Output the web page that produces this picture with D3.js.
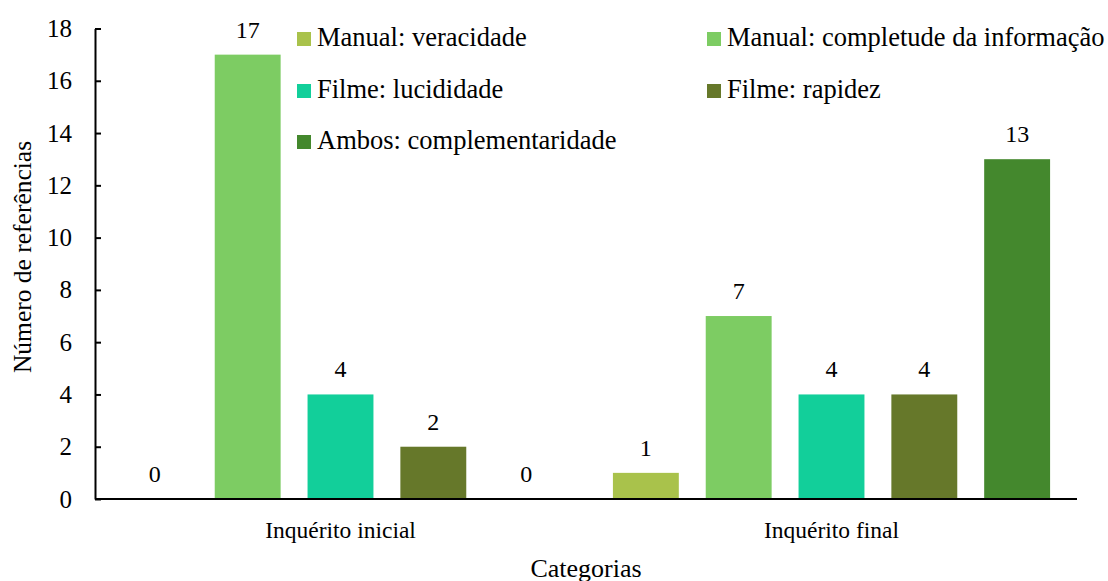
<!DOCTYPE html>
<html>
<head>
<meta charset="utf-8">
<script src="https://cdn.jsdelivr.net/npm/d3@7"></script>
<style>
  body { margin: 0; background: #fff; }
  svg text { font-family: 'Liberation Serif', 'Times New Roman', serif; fill: #000; }
</style>
</head>
<body>
<svg class="chart" width="1108" height="581"></svg>
<script>
// data
var categories = ['Inquérito inicial', 'Inquérito final']
var seriesNames = [
  'Manual: veracidade',
  'Manual: completude da informação',
  'Filme: lucididade',
  'Filme: rapidez',
  'Ambos: complementaridade'
]
var veracidade = [0, 1]
var completude = [17, 7]
var lucididade = [4, 4]
var rapidez = [2, 4]
var complementaridade = [0, 13]
var yTicks = [0, 2, 4, 6, 8, 10, 12, 14, 16, 18]

var colors = ['#a9c24b', '#7dcc63', '#12cf9a', '#66782a', '#44882d']
var seriesValues = [veracidade, completude, lucididade, rapidez, complementaridade]

var svg = d3.select('.chart')
var plotLeft = 95, plotRight = 1077, plotTop = 28.5, plotBottom = 499

var x0 = d3.scaleBand().domain(categories).range([plotLeft, plotRight])
var x1 = d3.scaleBand().domain(seriesNames).range([0, x0.bandwidth()]).padding(0.29)
var y = d3.scaleLinear().domain([0, 18]).range([plotBottom, plotTop])

// bars
categories.forEach(function(cat, ci) {
  var g = svg.append('g').attr('transform', 'translate(' + x0(cat) + ',0)')
  seriesNames.forEach(function(s, si) {
    var v = seriesValues[si][ci]
    g.append('rect')
      .attr('x', x1(s))
      .attr('y', y(v))
      .attr('width', x1.bandwidth())
      .attr('height', plotBottom - y(v))
      .attr('fill', colors[si])
    g.append('text')
      .attr('x', x1(s) + x1.bandwidth() / 2)
      .attr('y', y(v) - 17)
      .attr('text-anchor', 'middle')
      .style('font-size', '24px')
      .text(v)
  })
})

// y axis
var yAxis = svg.append('g')
  .attr('transform', 'translate(' + plotLeft + ',0)')
  .call(d3.axisLeft(y).tickValues(yTicks).tickSizeInner(-6).tickSizeOuter(0).tickPadding(23))
yAxis.select('.domain').attr('stroke', '#000').attr('stroke-width', 2)
yAxis.selectAll('.tick line').attr('stroke', '#000').attr('stroke-width', 2)
yAxis.selectAll('.tick text').style('font-size', '25px').style('font-family', "'Liberation Serif', serif")

// x axis line
svg.append('line')
  .attr('x1', plotLeft).attr('x2', plotRight)
  .attr('y1', plotBottom).attr('y2', plotBottom)
  .attr('stroke', '#000').attr('stroke-width', 2)

// category labels
svg.selectAll('.cat')
  .data(categories)
  .enter()
  .append('text')
  .attr('x', d => x0(d) + x0.bandwidth() / 2)
  .attr('y', 538)
  .attr('text-anchor', 'middle')
  .style('font-size', '23.5px')
  .text(d => d)

// axis titles
svg.append('text')
  .attr('x', 586)
  .attr('y', 577)
  .attr('text-anchor', 'middle')
  .style('font-size', '26px')
  .text('Categorias')

svg.append('text')
  .attr('transform', 'translate(31,257) rotate(-90)')
  .attr('text-anchor', 'middle')
  .style('font-size', '25.5px')
  .text('Número de referências')

// legend
var legendPos = [[297, 32], [707, 32], [297, 84], [707, 84], [297, 135]]
seriesNames.forEach(function(s, i) {
  var lg = svg.append('g').attr('transform', 'translate(' + legendPos[i][0] + ',' + legendPos[i][1] + ')')
  lg.append('rect').attr('width', 14).attr('height', 14).attr('fill', colors[i])
  lg.append('text').attr('x', 20).attr('y', 14).style('font-size', '26.5px').text(s)
})
</script>
</body>
</html>
